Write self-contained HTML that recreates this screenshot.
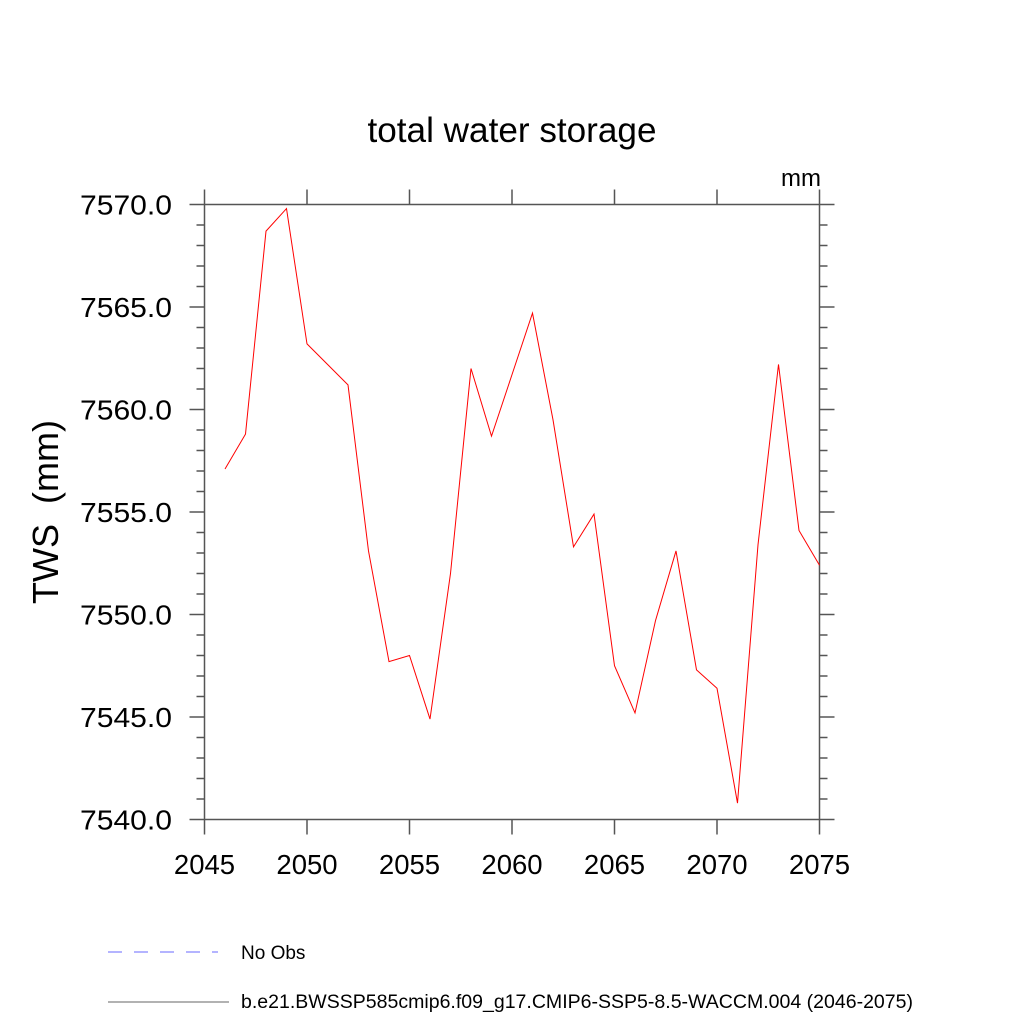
<!DOCTYPE html>
<html><head><meta charset="utf-8"><style>
body{margin:0;background:#fff}
svg text{font-family:"Liberation Sans",Arial,sans-serif}
</style></head><body>
<svg id="chart" width="1024" height="1024" xmlns="http://www.w3.org/2000/svg">
<text x="512" y="142" font-size="35" text-anchor="middle" textLength="289" lengthAdjust="spacingAndGlyphs">total water storage</text>
<text x="821" y="186" font-size="24" text-anchor="end">mm</text>
<text transform="translate(58,512) rotate(-90)" font-size="36" text-anchor="middle">TWS&#160; (mm)</text>
<g id="axes"></g>
<g id="series"></g>
<g>
<line x1="108" y1="952" x2="218" y2="952" stroke="#6a6aff" stroke-width="1" stroke-dasharray="14,12"/>
<text x="241" y="959" font-size="19">No Obs</text>
<line x1="108" y1="1002" x2="229" y2="1002" stroke="#666" stroke-width="1"/>
<text x="241" y="1008" font-size="19" textLength="672" lengthAdjust="spacingAndGlyphs">b.e21.BWSSP585cmip6.f09_g17.CMIP6-SSP5-8.5-WACCM.004 (2046-2075)</text>
</g>
</svg>
<script>
const years=[2046,2047,2048,2049,2050,2051,2052,2053,2054,2055,2056,2057,2058,2059,2060,2061,2062,2063,2064,2065,2066,2067,2068,2069,2070,2071,2072,2073,2074,2075];
const tws=[7557.1,7558.8,7568.7,7569.8,7563.2,7562.2,7561.2,7553.1,7547.7,7548.0,7544.9,7552.0,7562.0,7558.7,7561.7,7564.7,7559.5,7553.3,7554.9,7547.5,7545.2,7549.7,7553.1,7547.3,7546.4,7540.8,7553.4,7562.2,7554.1,7552.4];
const xTicks=[2045,2050,2055,2060,2065,2070,2075];
const yTicks=[7540,7545,7550,7555,7560,7565,7570];
const X0=204.5,X1=819.5,Y0=204.5,Y1=819.5;
const xs=v=>X0+(v-2045)/30*(X1-X0);
const ys=v=>Y1-(v-7540)/30*(Y1-Y0);
const NS="http://www.w3.org/2000/svg";
const ax=document.getElementById('axes');
function ln(x1,y1,x2,y2,name){const l=document.createElementNS(NS,'line');
l.setAttribute('x1',x1);l.setAttribute('y1',y1);l.setAttribute('x2',x2);l.setAttribute('y2',y2);
l.setAttribute('stroke','#555');l.setAttribute('stroke-width','1.5');


ax.appendChild(l);}
ln(X0,Y0,X1,Y0,'plot-frame-top');ln(X0,Y1,X1,Y1,'plot-frame-bottom');
ln(X0,Y0,X0,Y1,'plot-frame-left');ln(X1,Y0,X1,Y1,'plot-frame-right');
xTicks.forEach(t=>{const x=xs(t);ln(x,Y1,x,Y1+15,'x-tick');ln(x,Y0,x,Y0-15,'x-tick-top');
const tx=document.createElementNS(NS,'text');tx.setAttribute('x',x);tx.setAttribute('y',874);
tx.setAttribute('font-size','27.5');tx.setAttribute('text-anchor','middle');tx.textContent=t;


ax.appendChild(tx);});
for(let v=7540;v<=7570;v++){const y=ys(v);const major=(v%5===0);const L=major?15:8;
ln(X0-L,y,X0,y,'y-tick');ln(X1,y,X1+L,y,'y-tick-right');}
yTicks.forEach(t=>{const tx=document.createElementNS(NS,'text');tx.setAttribute('x',172);tx.setAttribute('y',ys(t)+10);
tx.setAttribute('font-size','27.5');tx.setAttribute('text-anchor','end');tx.setAttribute('textLength','92');tx.setAttribute('lengthAdjust','spacingAndGlyphs');tx.textContent=t.toFixed(1);


ax.appendChild(tx);});
const p=document.createElementNS(NS,'polyline');
p.setAttribute('points',years.map((y,i)=>xs(y)+','+ys(tws[i])).join(' '));
p.setAttribute('fill','none');p.setAttribute('stroke','#ff0000');p.setAttribute('stroke-width','1');


document.getElementById('series').appendChild(p);
</script>
</body></html>
